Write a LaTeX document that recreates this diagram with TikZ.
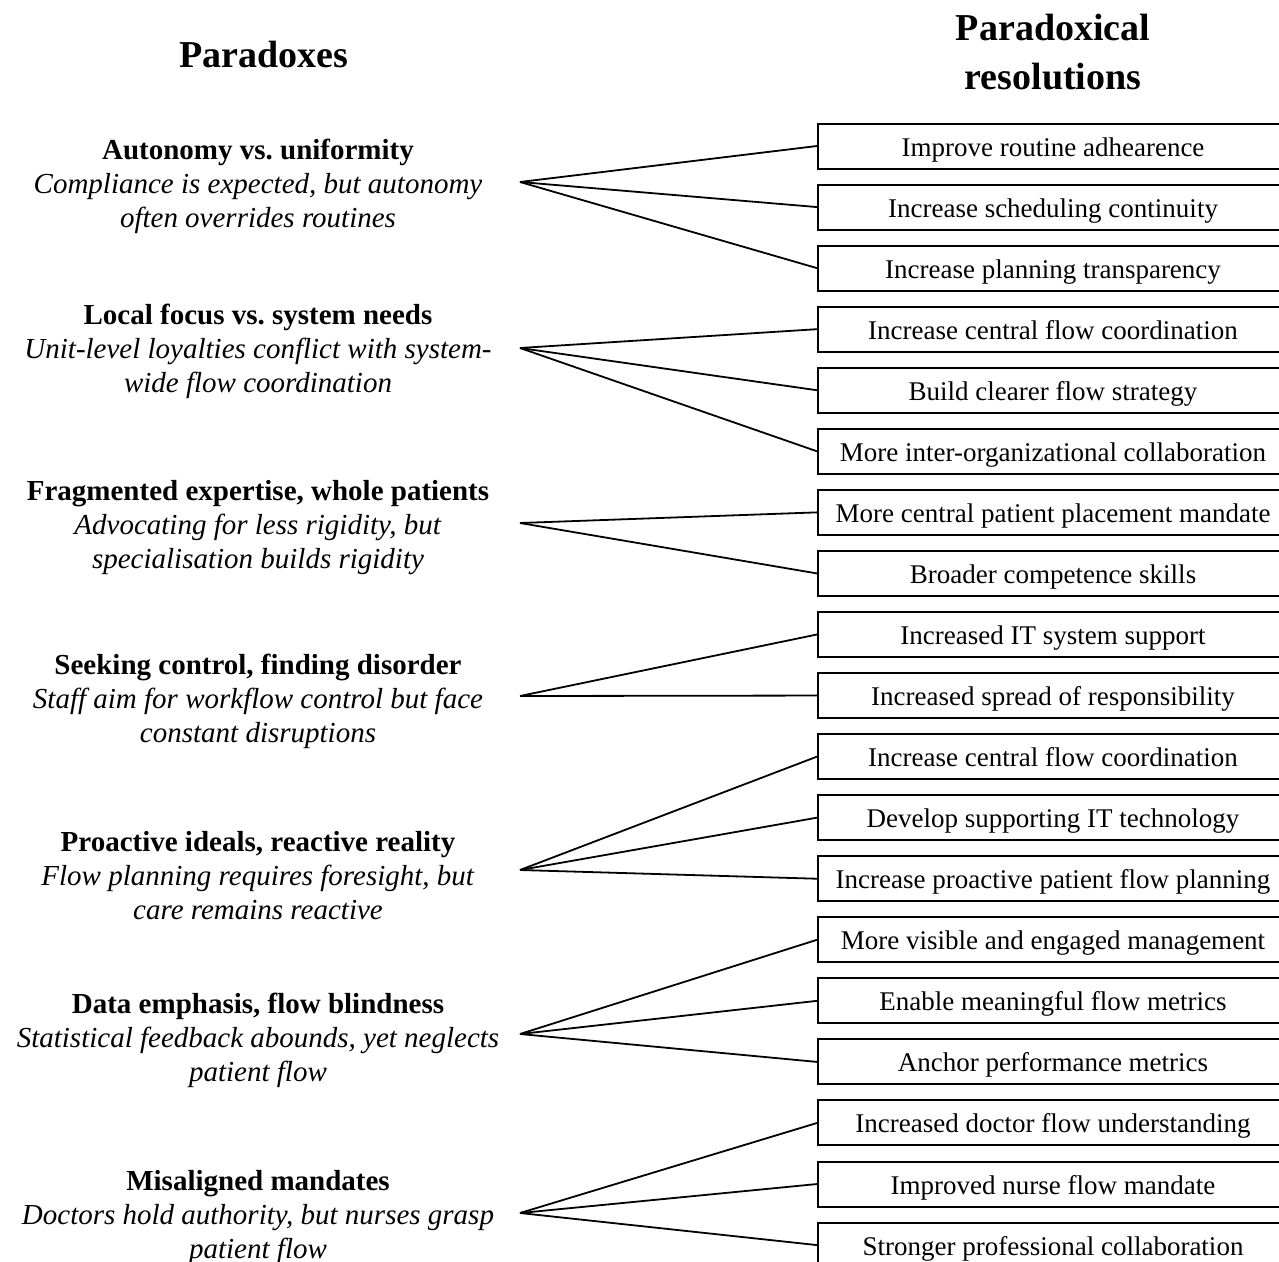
\documentclass[tikz,border=0pt]{standalone}
\usepackage{fontspec}
\setmainfont{Liberation Serif}
\usepackage{tikz}
\usetikzlibrary{positioning}
\frenchspacing

\tikzset{
  head/.style={font=\fontsize{38}{49}\selectfont\bfseries, align=center},
  paradox/.style={font=\fontsize{29}{34}\selectfont, align=center, inner sep=0pt},
  resbox/.style={draw, line width=2pt, minimum width=470, minimum height=45, inner sep=0pt,
    text height=20, text depth=0, font=\fontsize{27}{31}\selectfont},
  link/.style={line width=1.8pt}
}

\begin{document}
\begin{tikzpicture}[x=1pt, y=-1pt]
\useasboundingbox (0,0) rectangle (1279,1261);

\node[head] (hpar) at (264,55) {Paradoxes};
\node[head] (hres) at (1053,52) {Paradoxical\\resolutions};

% paradoxes
\node[paradox] (p1) at (258,186) {\textbf{Autonomy vs. uniformity}\\\textit{Compliance is expected, but autonomy}\\\textit{often overrides routines}};
\node[paradox] (p2) at (258,351) {\textbf{Local focus vs. system needs}\\\textit{Unit-level loyalties conflict with system-}\\\textit{wide flow coordination}};
\node[paradox] (p3) at (258,528) {\textbf{Fragmented expertise, whole patients}\\\textit{Advocating for less rigidity, but}\\\textit{specialisation builds rigidity}};
\node[paradox] (p4) at (258,701) {\textbf{Seeking control, finding disorder}\\\textit{Staff aim for workflow control but face}\\\textit{constant disruptions}};
\node[paradox] (p5) at (258,876) {\textbf{Proactive ideals, reactive reality}\\\textit{Flow planning requires foresight, but}\\\textit{care remains reactive}};
\node[paradox] (p6) at (258,1040) {\textbf{Data emphasis, flow blindness}\\\textit{Statistical feedback abounds, yet neglects}\\\textit{patient flow}};
\node[paradox] (p7) at (258,1218) {\textbf{Misaligned mandates}\\\textit{Doctors hold authority, but nurses grasp}\\\textit{patient flow}};

\coordinate (h1) at (520,182);
\coordinate (h2) at (520,348);
\coordinate (h3) at (520,523);
\coordinate (h4) at (520,696);
\coordinate (h5) at (520,870);
\coordinate (h6) at (520,1034);
\coordinate (h7) at (520,1213);

% resolutions
\foreach \t [count=\i from 0] in {Improve routine adhearence, Increase scheduling continuity, Increase planning transparency,
    Increase central flow coordination, Build clearer flow strategy, More inter-organizational collaboration,
    More central patient placement mandate, Broader competence skills,
    Increased IT system support, Increased spread of responsibility,
    Increase central flow coordination, Develop supporting IT technology, Increase proactive patient flow planning,
    More visible and engaged management, Enable meaningful flow metrics, Anchor performance metrics,
    Increased doctor flow understanding, Improved nurse flow mandate, Stronger professional collaboration}
    \node[resbox] (r\i) at (1053,{146+61.06*\i}) {\t};

\foreach \h/\r in {h1/0, h1/1, h1/2, h2/3, h2/4, h2/5, h3/6, h3/7, h4/8, h4/9,
    h5/10, h5/11, h5/12, h6/13, h6/14, h6/15, h7/16, h7/17, h7/18}
    \draw[link] (\h) -- (r\r.west);

\end{tikzpicture}
\end{document}
